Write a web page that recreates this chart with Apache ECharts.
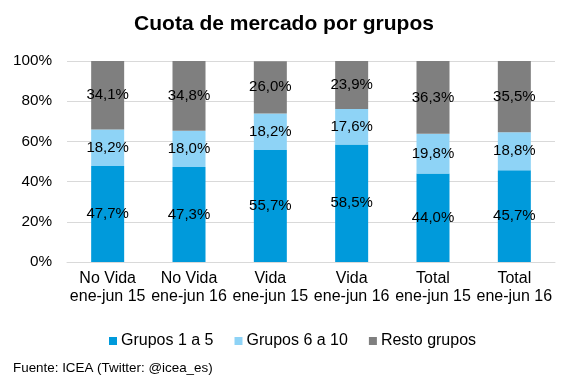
<!DOCTYPE html>
<html><head><meta charset="utf-8">
<script src="https://cdn.jsdelivr.net/npm/echarts@6/dist/echarts.min.js"></script>
<style>html,body{margin:0;padding:0;background:#fff}#c{width:568px;height:379px}</style>
</head><body><div id="c"></div>
<script>
const categories = ["No Vida\nene-jun 15","No Vida\nene-jun 16","Vida\nene-jun 15","Vida\nene-jun 16","Total\nene-jun 15","Total\nene-jun 16"];
const grupos1a5 = [47.7,47.3,55.7,58.5,44.0,45.7];
const grupos6a10 = [18.2,18.0,18.2,17.6,19.8,18.8];
const restoGrupos = [34.1,34.8,26.0,23.9,36.3,35.5];
const seriesNames = ["Grupos 1 a 5","Grupos 6 a 10","Resto grupos"];
const colors = ["#009ADB","#8ED3F6","#7F7F7F"];
const font = "Liberation Sans, Arial, sans-serif";
const fmt = p => p.value.toFixed(1).replace('.', ',') + '%';
const mk = (name, data, color) => ({
  name, type:'bar', stack:'s', data, barWidth:33,
  itemStyle:{color},
  label:{show:true, position:'inside', formatter:fmt, color:'#000', fontFamily:font, fontSize:15}
});
const chart = echarts.init(document.getElementById('c'), null, {renderer:'canvas'});
chart.setOption({
  animation:false,
  title:{text:'Cuota de mercado por grupos', left:'center', top:9,
    textStyle:{fontFamily:font, fontSize:21, fontWeight:'bold', color:'#000'}},
  grid:{left:67, right:13, top:61, bottom:117},
  legend:{data:seriesNames, left:104, top:328, itemWidth:8, itemHeight:8, itemGap:21,
    icon:'rect', textStyle:{fontFamily:font, fontSize:16, color:'#000', padding:[0,0,0,-1]}},
  xAxis:{type:'category', data:categories,
    axisLine:{lineStyle:{color:'#d9d9d9'}}, axisTick:{show:false},
    axisLabel:{fontFamily:font, fontSize:16, color:'#000', lineHeight:18, margin:8, interval:0}},
  yAxis:{type:'value', min:0, max:100, interval:20,
    axisLine:{show:false}, axisTick:{show:false},
    splitLine:{lineStyle:{color:'#d9d9d9'}},
    axisLabel:{fontFamily:font, fontSize:15.3, color:'#000', formatter:'{value}%', margin:15}},
  graphic:[{type:'text', left:13, top:362, style:{text:'Fuente: ICEA (Twitter: @icea_es)', font:'13.4px '+font, fill:'#000'}}],
  series:[mk(seriesNames[0], grupos1a5, colors[0]), mk(seriesNames[1], grupos6a10, colors[1]), mk(seriesNames[2], restoGrupos, colors[2])]
});
</script></body></html>
